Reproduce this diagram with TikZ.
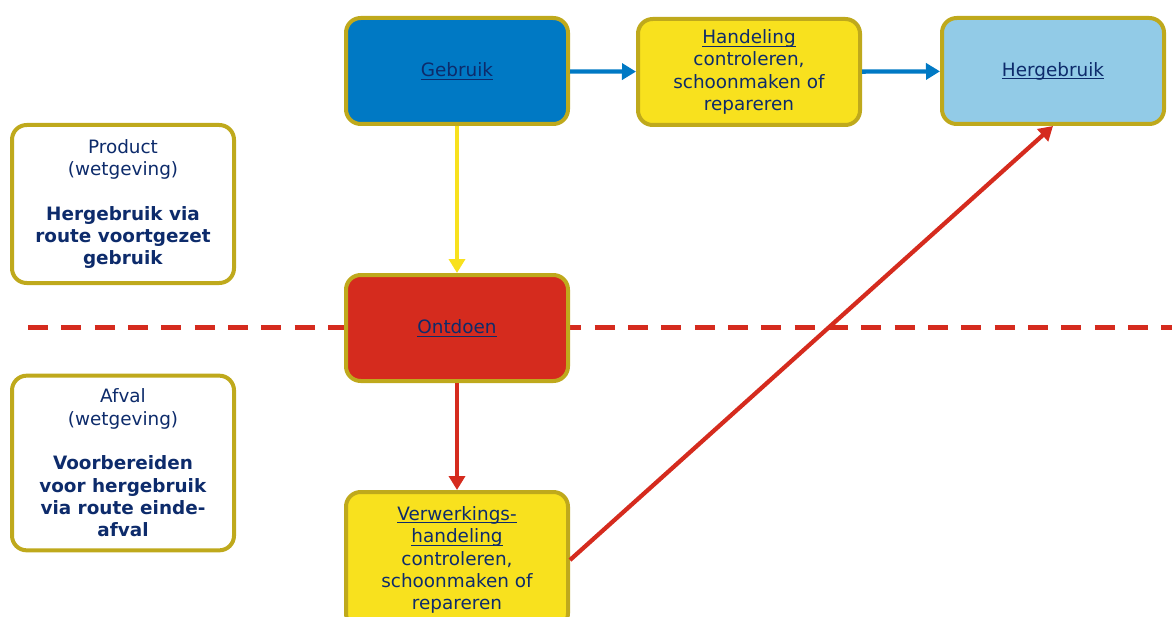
\documentclass[tikz,border=0pt]{standalone}
\usepackage{fontspec}
\setmainfont{DejaVu Sans}
\usetikzlibrary{arrows.meta}
\definecolor{navy}{HTML}{0D2B6B}
\definecolor{rand}{HTML}{BFA91C}
\definecolor{gebruikblauw}{HTML}{0079C4}
\definecolor{lichtblauw}{HTML}{92CBE7}
\definecolor{geel}{HTML}{F8E11E}
\definecolor{rood}{HTML}{D52B1E}
\newcommand\onderstreep[1]{\setbox0\hbox{#1}\rlap{\rule[-2.4pt]{\wd0}{0.75pt}}\box0}
\tikzset{
  blok/.style={draw=rand, line width=3pt, rounded corners=11pt, align=center,
    text=navy, minimum width=166.5pt, minimum height=79.5pt, inner sep=2pt,
    font=\fontsize{13.8}{16.8}\selectfont},
  pijl/.style={line width=3.2pt, -{Triangle[length=10.5pt,width=12pt]}}
}
\begin{document}
\begin{tikzpicture}[x=0.75pt, y=-0.75pt]
   \useasboundingbox (0,0) rectangle (1172,617);
   \clip (0,0) rectangle (1172,617);
   \draw[rood, line width=3.75pt, dash pattern=on 15pt off 10pt] (28,327) -- (1172,327);
   \node[blok, fill=gebruikblauw] (gebruik) at (457,71) {\onderstreep{Gebruik}};
   \node[blok, fill=geel] (handeling) at (749,72) {\onderstreep{Handeling}\\controleren,\\schoonmaken of\\repareren};
   \node[blok, fill=lichtblauw] (hergebruik) at (1053,71) {\onderstreep{Hergebruik}};
   \node[blok, fill=rood] (ontdoen) at (457,328) {\onderstreep{Ontdoen}};
   \node[blok, fill=geel, minimum height=102pt] (verwerking) at (457,560) {\onderstreep{Verwerkings-}\\\onderstreep{handeling}\\controleren,\\schoonmaken of\\repareren};
   \node[blok, fill=white, minimum height=118.5pt] (product) at (123,204) {Product\\(wetgeving)\\[16.5pt]\textbf{Hergebruik via}\\\textbf{route voortgezet}\\\textbf{gebruik}};
   \node[blok, fill=white, minimum height=131pt] (afval) at (123,463) {Afval\\(wetgeving)\\[16.5pt]\textbf{Voorbereiden}\\\textbf{voor hergebruik}\\\textbf{via route einde-}\\\textbf{afval}};
   \draw[pijl, gebruikblauw] (gebruik) -- (handeling);
   \draw[pijl, gebruikblauw] (handeling) -- (hergebruik);
   \draw[pijl, geel] (gebruik) -- (ontdoen);
   \draw[pijl, rood] (ontdoen) -- (verwerking);
   \draw[pijl, rood] (verwerking.east) -- (hergebruik.south);
\end{tikzpicture}
\end{document}
